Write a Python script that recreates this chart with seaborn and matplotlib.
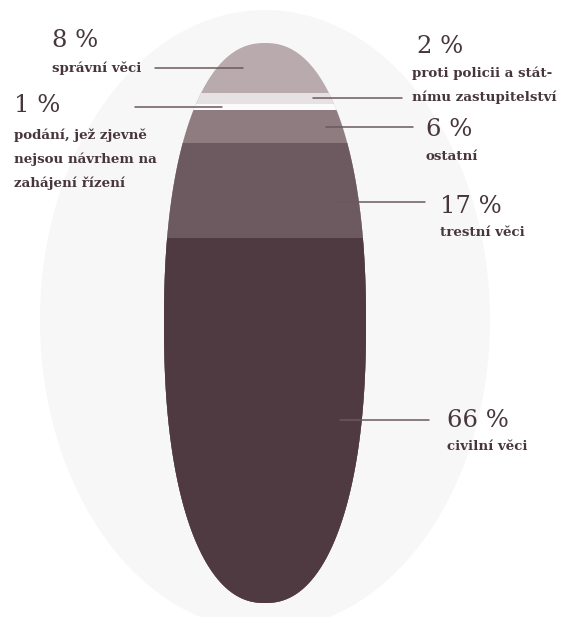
import numpy as np
import pandas as pd
import matplotlib
matplotlib.use("Agg")
import matplotlib.pyplot as plt
import matplotlib.transforms as mtransforms
from matplotlib.patches import Ellipse, Polygon
import seaborn as sns

# categories from bottom of the ellipse to the top
categories = ["civilní věci", "trestní věci", "ostatní",
              "podání, jež zjevně\nnejsou návrhem na\nzahájení řízení",
              "proti policii a stát-\nnímu zastupitelství", "správní věci"]
shares = [65.2, 16.9, 5.9, 1.1, 2.0, 8.9]
pct_labels = ["66 %", "17 %", "6 %", "1 %", "2 %", "8 %"]
colors = ["#4f3a42", "#6d5a61", "#8e7c81", "#fbfbfb", "#e6e1e2", "#b8aaad"]

# label layout in pixels (x0, x1 of leader, pct x, pct baseline, label x, first label line centre, line y shift in %)
layout = {
    "civilní věci": (340, 429, 447, 427, 447, 446, 0.0),
    "trestní věci": (337, 425, 440, 213, 440, 233, -2.0),
    "ostatní": (326, 413, 426, 136, 426, 157, 0.0),
    "podání, jež zjevně\nnejsou návrhem na\nzahájení řízení": (135, 222, 14, 112, 14, 135, 0.0),
    "proti policii a stát-\nnímu zastupitelství": (313, 402, 417, 53, 412, 73, 0.0),
    "správní věci": (155, 243, 52, 47, 52, 68, 0.0),
}

sns.set_theme(style="white")
plt.rcParams["font.family"] = ["DejaVu Serif"]
txt_color = "#47373d"
line_color = "#6a5860"

W, H = 565, 617
fig = plt.figure(figsize=(W / 100, H / 100), dpi=100)
fig.patch.set_facecolor("white")

# background axes in pixel coordinates
bg = fig.add_axes([0, 0, 1, 1], zorder=0)
bg.set_xlim(0, W)
bg.set_ylim(H, 0)
bg.axis("off")
bg.add_patch(Ellipse((265, 320), 450, 620, facecolor="#f7f7f7", edgecolor="none"))

# axes for the stacked bar, clipped to the inner (slightly blunt) ellipse
left, right, top, bottom = 164, 366, 43, 603
bax = fig.add_axes([left / W, (H - bottom) / H, (right - left) / W, (bottom - top) / H], zorder=1)
bax.patch.set_alpha(0)

df = pd.DataFrame({"cat": categories, "share": shares, "color": colors})
df["top"] = df["share"].cumsum()
df["mid"] = df["top"] - df["share"] / 2

# draw cumulative layers from the tallest down so they overlap into a stack
for _, row in df.iloc[::-1].iterrows():
    sns.barplot(x=["all"], y=[row["top"]], color=row["color"], saturation=1,
                width=1, ax=bax, edgecolor="none", linewidth=0)

bax.set_xlim(-0.5, 0.5)
bax.set_ylim(0, 100)
bax.axis("off")

n = 2.25
t = np.linspace(0, 2 * np.pi, 400)
cx = 0.5 + 0.5 * np.sign(np.cos(t)) * np.abs(np.cos(t)) ** (2 / n)
cy = 0.5 + 0.5 * np.sign(np.sin(t)) * np.abs(np.sin(t)) ** (2 / n)
clip = Polygon(np.column_stack([cx, cy]), closed=True, transform=bax.transAxes)
for p in bax.patches:
    p.set_clip_path(clip)

# overlay for labels and leaders
ov = fig.add_axes([0, 0, 1, 1], zorder=2)
ov.set_xlim(0, W)
ov.set_ylim(H, 0)
ov.axis("off")
ov.patch.set_alpha(0)
blend = mtransforms.blended_transform_factory(ov.transData, bax.transData)

for _, row in df.iterrows():
    x0, x1, px, pyb, lx, ly, dy = layout[row["cat"]]
    yy = row["mid"] + dy
    ov.plot([x0, x1], [yy, yy], color=line_color, lw=1.1, transform=blend, clip_on=False)
    ov.text(px, pyb, pct_labels[categories.index(row["cat"])], fontsize=17.5,
            color=txt_color, ha="left", va="baseline")
    for i, line in enumerate(row["cat"].split("\n")):
        ov.text(lx, ly + i * 24, line, fontsize=9.6, fontweight="bold",
                color=txt_color, ha="left", va="center")

fig.savefig("out.png", dpi=100)
